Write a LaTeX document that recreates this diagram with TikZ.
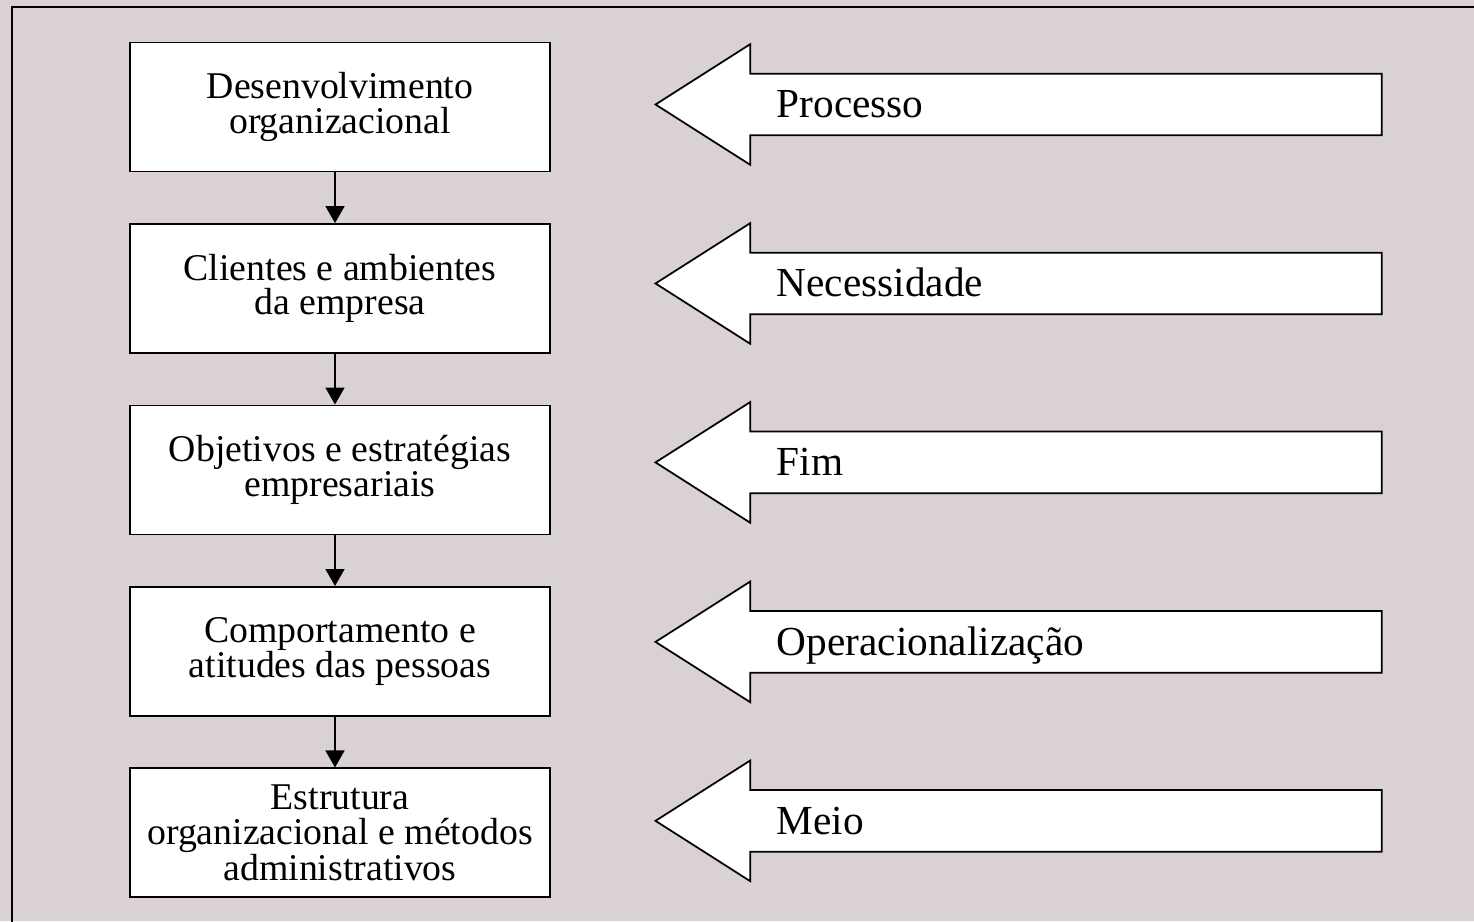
\documentclass[tikz,border=0pt]{standalone}
\usepackage{fontspec}
\setmainfont{Liberation Serif}
\usepackage{tikz}
\usetikzlibrary{shapes.arrows, arrows.meta, positioning}
\definecolor{paneltone}{RGB}{217, 209, 212}

\begin{document}
\begin{tikzpicture}[
    node distance=1.014cm,
    stage/.style={rectangle, draw=black, fill=white, line width=1pt, minimum height=2.58cm, minimum width=8.4cm, align=center, font=\fontsize{21.5}{19.5}\selectfont},
    role/.style={single arrow, shape border rotate=180, draw=black, fill=white, line width=1pt, single arrow tip angle=65, single arrow head extend=0.59cm, text width=12.48cm, inner xsep=0.52cm, inner ysep=0.3cm, text height=16pt, text depth=1pt, align=left, font=\fontsize{23.5}{19}\selectfont},
    arrow/.style={-{Triangle[length=0.34cm, width=0.38cm]}, line width=1pt}
]
    \useasboundingbox (0,0) rectangle (29.48,-18.42);
    \clip (0,0) rectangle (29.48,-18.42);
    \fill[paneltone] (0,0) rectangle (29.48,-18.42);
    \draw[line width=1.1pt] (0.24,-19) |- (30,-0.14);

    \node[stage] (d1) at (6.8,-2.14) {Desenvolvimento\\organizacional};
    \node[stage, below=of d1] (d2) {Clientes e ambientes\\da empresa};
    \node[stage, below=of d2] (d3) {Objetivos e estratégias\\empresariais};
    \node[stage, below=of d3] (d4) {Comportamento e\\atitudes das pessoas};
    \node[stage, below=of d4] (d5) {Estrutura\\organizacional e métodos\\administrativos};

    \node[role, right=2.06cm of d1, anchor=tip, yshift=0.05cm] (a1) {\hspace*{0.92cm}Processo};
    \node[role, right=2.06cm of d2, anchor=tip, yshift=0.1cm] (a2) {\hspace*{0.92cm}Necessidade};
    \node[role, right=2.06cm of d3, anchor=tip, yshift=0.15cm] (a3) {\hspace*{0.92cm}Fim};
    \node[role, right=2.06cm of d4, anchor=tip, yshift=0.19cm] (a4) {\hspace*{0.92cm}Operacionalização};
    \node[role, right=2.06cm of d5, anchor=tip, yshift=0.24cm] (a5) {\hspace*{0.92cm}Meio};

    \draw[arrow] ([xshift=-0.1cm]d1.south) -- ([xshift=-0.1cm]d2.north);
    \draw[arrow] ([xshift=-0.1cm]d2.south) -- ([xshift=-0.1cm]d3.north);
    \draw[arrow] ([xshift=-0.1cm]d3.south) -- ([xshift=-0.1cm]d4.north);
    \draw[arrow] ([xshift=-0.1cm]d4.south) -- ([xshift=-0.1cm]d5.north);
\end{tikzpicture}
\end{document}
